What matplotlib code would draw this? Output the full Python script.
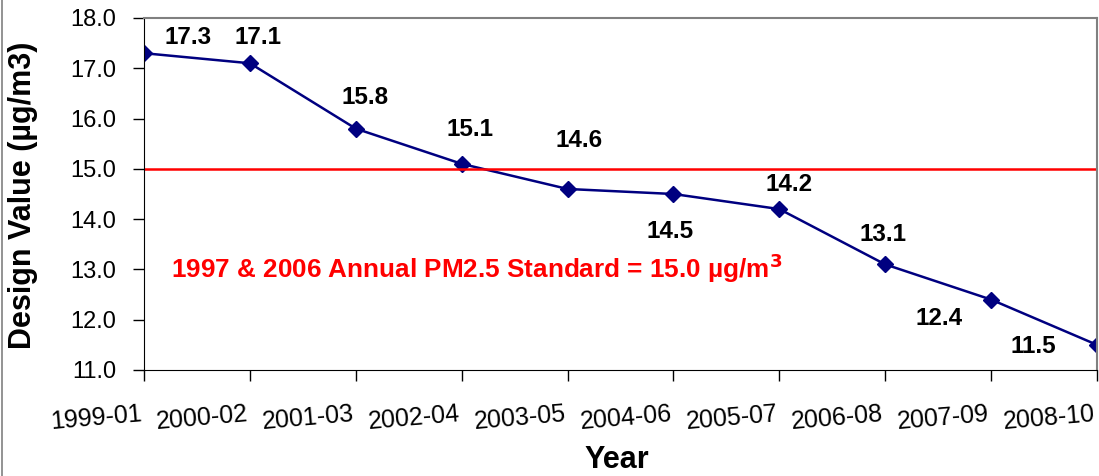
import matplotlib.pyplot as plt
import matplotlib.transforms as mtransforms
from matplotlib.lines import Line2D

years = ["1999-01", "2000-02", "2001-03", "2002-04", "2003-05",
         "2004-06", "2005-07", "2006-08", "2007-09", "2008-10"]
values = [17.3, 17.1, 15.8, 15.1, 14.6, 14.5, 14.2, 13.1, 12.4, 11.5]
standard = 15.0

# label offsets in pixels, picked by eye
offsets = [(44, 16), (8, 26), (9, 31), (8, 34), (12, 48),
           (-3, -37), (10, 25), (-2, 30), (-52, -19), (-64, -2)]

plt.rcParams['font.family'] = ['Liberation Sans', 'DejaVu Sans']

fig = plt.figure(figsize=(10.99, 4.76), dpi=100)
ax = fig.add_axes([144 / 1099, 1 - 370 / 476, (1097 - 144) / 1099, 352 / 476])

x = list(range(len(years)))
ax.plot(x, values, color='#000080', lw=1.8, marker='D', ms=8.5, mec='#000080', mfc='#000080')
ax.axhline(standard, color='#ff0000', lw=1.8)

for xi, v, (dx, dy) in zip(x, values, offsets):
    ax.annotate(f"{v:.1f}", (xi, v), xytext=(dx, dy), textcoords='offset pixels',
                ha='center', va='center', fontsize=17.5, fontweight='bold', color='black')

ax.text(0.349, 0.29, "1997 & 2006 Annual PM2.5 Standard = 15.0 µg/m$^{\\mathbf{3}}$",
        transform=ax.transAxes, ha='center', va='center', fontsize=18.8,
        fontweight='bold', color='#ff0000')

ax.set_xlim(0, 9)
ax.set_ylim(11, 18)
ax.set_yticks([11, 12, 13, 14, 15, 16, 17, 18])
ax.set_yticklabels([f"{t:.1f}" for t in range(11, 19)], fontsize=17)
ax.set_xticks(x)
ax.set_xticklabels([])

# tilted year labels, ending just left of each tick like the original
shift = mtransforms.ScaledTranslation(-3 / 100, -32 / 100, fig.dpi_scale_trans)
for xi, lab in zip(x, years):
    ax.text(xi, 0, lab, transform=ax.get_xaxis_transform() + shift, fontsize=18,
            rotation=5, rotation_mode='anchor', ha='right', va='top', clip_on=False)

ax.tick_params(axis='both', direction='out', length=8, width=1, color='black')
ax.tick_params(axis='y', pad=12)

ax.spines['left'].set_color('black')
ax.spines['bottom'].set_color('black')
ax.spines['top'].set_color('#808080')
ax.spines['right'].set_color('#808080')
ax.spines['top'].set_linewidth(1.5)
ax.spines['right'].set_linewidth(1.5)

ax.set_ylabel("Design Value (µg/m3)", fontsize=22, fontweight='bold')
ax.yaxis.set_label_coords(-0.111, 0.497)
fig.text(617 / 1099, 1 - 460 / 476, "Year", fontsize=22, fontweight='bold', ha='center', va='center')

# outer chart border on the left
fig.add_artist(Line2D([2 / 1099, 2 / 1099], [0, 1], transform=fig.transFigure, color='#808080', lw=1.2))

fig.savefig("out.png", dpi=100)
